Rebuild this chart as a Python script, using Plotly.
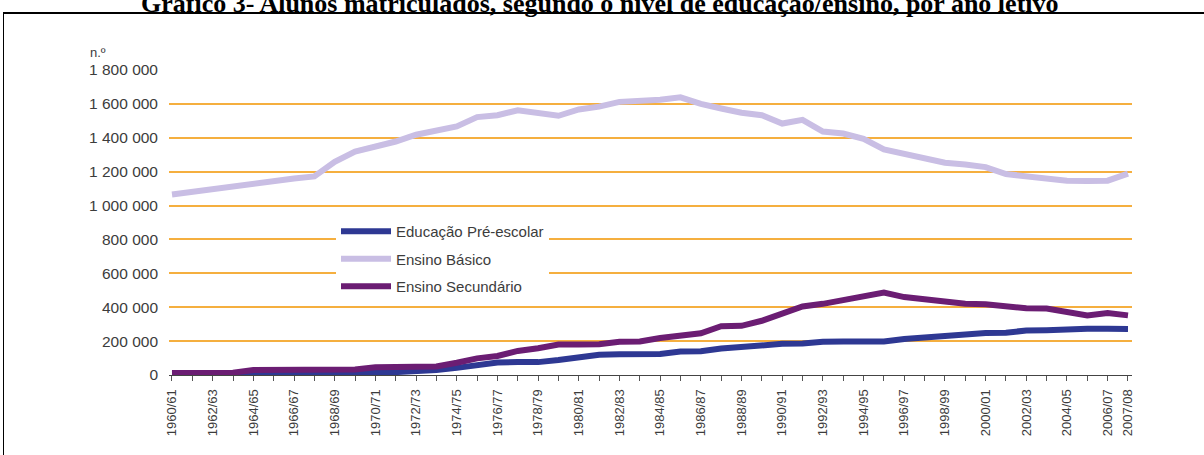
import plotly.graph_objects as go

anos = ["1960/61","1961/62","1962/63","1963/64","1964/65","1965/66","1966/67","1967/68",
        "1968/69","1969/70","1970/71","1971/72","1972/73","1973/74","1974/75","1975/76",
        "1976/77","1977/78","1978/79","1979/80","1980/81","1981/82","1982/83","1983/84",
        "1984/85","1985/86","1986/87","1987/88","1988/89","1989/90","1990/91","1991/92",
        "1992/93","1993/94","1994/95","1995/96","1996/97","1997/98","1998/99","1999/00",
        "2000/01","2001/02","2002/03","2003/04","2004/05","2005/06","2006/07","2007/08"]

pre_escolar = [6000, 6000, 6000, 7000, 8000, 8000, 9000, 10000, 11000, 12000, 14000, 17000,
               22000, 30000, 42000, 60000, 74000, 76000, 76000, 88000, 108000, 120000, 122000, 124000,
               124000, 138000, 140000, 156000, 168000, 172000, 184000, 186000, 196000, 197000, 198000, 198000,
               212000, 222000, 236000, 238000, 248000, 250000, 262000, 264000, 272000, 273000, 273000, 272000]

basico = [1065000, 1082000, 1096000, 1108000, 1133000, 1146000, 1160000, 1172000, 1258000, 1318000,
          1348000, 1378000, 1418000, 1443000, 1467000, 1522000, 1533000, 1562000, 1547000, 1530000,
          1567000, 1584000, 1612000, 1616000, 1625000, 1639000, 1600000, 1573000, 1548000, 1533000,
          1484000, 1506000, 1437000, 1425000, 1394000, 1331000, 1302000, 1276000, 1253000, 1242000,
          1227000, 1186000, 1170000, 1156000, 1146000, 1145000, 1147000, 1188000]

secundario = [12000, 12000, 12000, 14000, 30000, 31000, 31000, 32000, 32000, 33000, 46000, 47000,
              48000, 50000, 72000, 98000, 112000, 142000, 158000, 180000, 180000, 182000, 196000, 198000,
              218000, 232000, 246000, 288000, 290000, 320000, 360000, 404000, 420000, 444000, 460000, 486000,
              460000, 446000, 432000, 420000, 418000, 406000, 394000, 392000, 376000, 352000, 366000, 352000]

y_ticks = [0, 200000, 400000, 600000, 800000, 1000000, 1200000, 1400000, 1600000, 1800000]
y_labels = ["0", "200 000", "400 000", "600 000", "800 000", "1 000 000", "1 200 000",
            "1 400 000", "1 600 000", "1 800 000"]

series = [("Educação Pré-escolar", pre_escolar, "#2E3893"),
          ("Ensino Básico", basico, "#C9BEE4"),
          ("Ensino Secundário", secundario, "#6B1D73")]

x_idx = list(range(len(anos)))
x_text = [a if (i % 2 == 0 or i == len(anos) - 1) else "" for i, a in enumerate(anos)]

fig = go.Figure()
for name, vals, col in series:
    fig.add_trace(go.Scatter(x=x_idx, y=vals, mode="lines", name=name,
                             legendgroup=name,
                             line=dict(color=col, width=6)))

W, H = 1204, 455
L, R, T, B = 169, 72, 70, 80
pw, ph = W - L - R, H - T - B

def px(xp):
    return (xp - L) / pw

def py(yp):
    return (H - B - yp) / ph

fig.update_layout(
    width=W, height=H,
    margin=dict(l=L, r=R, t=T, b=B),
    paper_bgcolor="white", plot_bgcolor="white",
    font=dict(family="Liberation Sans, Arial, sans-serif", color="#3c3c3c"),
    showlegend=True,
    legend=dict(x=px(336), y=py(215), xanchor="left", yanchor="top",
                bgcolor="white", borderwidth=0, tracegroupgap=5,
                itemwidth=50,
                font=dict(size=15, color="#3c3c3c")),
    xaxis=dict(range=[-0.147, 47.197], tickmode="array", tickvals=x_idx, ticktext=x_text,
               tickangle=-90, ticks="outside", ticklen=5, tickcolor="#555",
               showline=True, linecolor="#444", linewidth=1.2,
               showgrid=False, zeroline=False, ticklabelstandoff=3,
               tickfont=dict(size=13, color="#3c3c3c")),
    yaxis=dict(range=[0, 1800000], tickmode="array", tickvals=y_ticks, ticktext=y_labels,
               showgrid=True, gridcolor="#F5AF3F", gridwidth=1.5,
               zeroline=False, showline=False, ticks="",
               ticklabelstandoff=10,
               tickfont=dict(size=15.5, color="#3c3c3c")),
    annotations=[
        dict(text="n.º", xref="paper", yref="paper", x=px(88), y=py(52),
             xanchor="left", yanchor="middle", showarrow=False,
             font=dict(size=13, color="#3c3c3c")),
        dict(text="<b>Gráfico 3- Alunos matriculados, segundo o nível de educação/ensino, por ano letivo</b>",
             xref="paper", yref="paper", x=px(600), y=py(3), xanchor="center", yanchor="middle",
             showarrow=False,
             font=dict(family="Liberation Serif, Times New Roman, serif", size=26, color="black")),
    ],
    shapes=[
        dict(type="line", xref="paper", yref="paper", x0=px(3), x1=px(1210), y0=py(13), y1=py(13),
             line=dict(color="black", width=2)),
        dict(type="line", xref="paper", yref="paper", x0=px(3.5), x1=px(3.5), y0=py(13), y1=py(460),
             line=dict(color="black", width=1)),
    ],
)

fig.write_html("out.html", config={"displayModeBar": False},
               post_script="document.body.style.margin='0';")
